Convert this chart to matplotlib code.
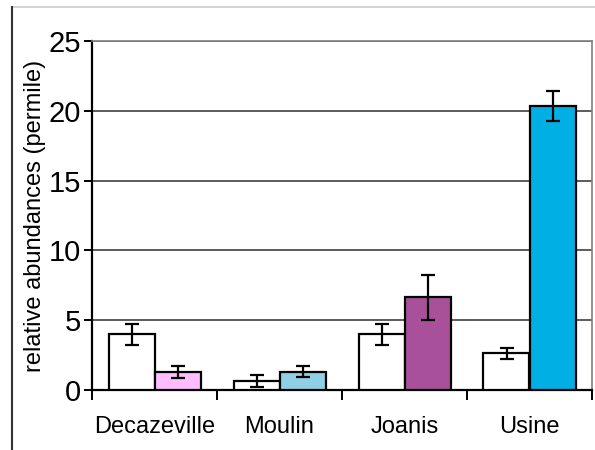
import numpy as np
import matplotlib
matplotlib.use('Agg')
import matplotlib.pyplot as plt
from matplotlib.lines import Line2D

plt.rcParams['font.family'] = ['Liberation Sans', 'DejaVu Sans']

sites = ['Decazeville', 'Moulin', 'Joanis', 'Usine']
control = [4.0, 0.65, 4.0, 2.62]
control_err = [0.75, 0.4, 0.75, 0.4]
treated = [1.3, 1.3, 6.65, 20.35]
treated_err = [0.43, 0.4, 1.6, 1.05]
treated_colors = ['#ffbcff', '#8fd0e4', '#a8519a', '#00afe4']

fig = plt.figure(figsize=(5.95, 4.5), dpi=100)
ax = fig.add_axes([92 / 595, 60 / 450, 500 / 595, 349 / 450])

x = np.arange(len(sites))
w = 0.368
ekw = dict(elinewidth=1.6, capthick=1.6, ecolor='black')
ax.bar(x - w / 2, control, w, color='white', edgecolor='black', linewidth=1.6,
       yerr=control_err, capsize=5, error_kw=ekw, zorder=3)
ax.bar(x + w / 2, treated, w, color=treated_colors, edgecolor='black', linewidth=1.6,
       yerr=treated_err, capsize=5, error_kw=ekw, zorder=3)

ax.set_xlim(-0.5, len(sites) - 0.5)
ax.set_ylim(0, 25)
ax.set_yticks([0, 5, 10, 15, 20, 25])
ax.yaxis.grid(True, color='#404040', linewidth=1.2, zorder=0)
ax.set_axisbelow(True)

# category boundaries as ticks, labels centred in between
ax.set_xticks(np.arange(len(sites) + 1) - 0.5)
ax.set_xticklabels([])
ax.set_xticks(x, minor=True)
ax.set_xticklabels(sites, minor=True, fontsize=17)
ax.tick_params(axis='x', which='minor', length=0, pad=19)
ax.tick_params(axis='x', which='major', length=7, width=1.4, direction='out')
ax.tick_params(axis='y', labelsize=21, length=6, width=1.4, pad=2)

for s in ['left', 'bottom']:
    ax.spines[s].set_linewidth(1.6)
for s in ['top', 'right']:
    ax.spines[s].set_color('#808080')
    ax.spines[s].set_linewidth(1.2)

ax.set_ylabel('relative abundances (permile)', fontsize=17, labelpad=2)

# outer frame lines
fig.add_artist(Line2D([12 / 595, 1], [443 / 450, 443 / 450], color='#cccccc', linewidth=1.2))
fig.add_artist(Line2D([12 / 595, 12 / 595], [0, 443 / 450], color='#333333', linewidth=1.5))

fig.savefig('out.png', dpi=100)
